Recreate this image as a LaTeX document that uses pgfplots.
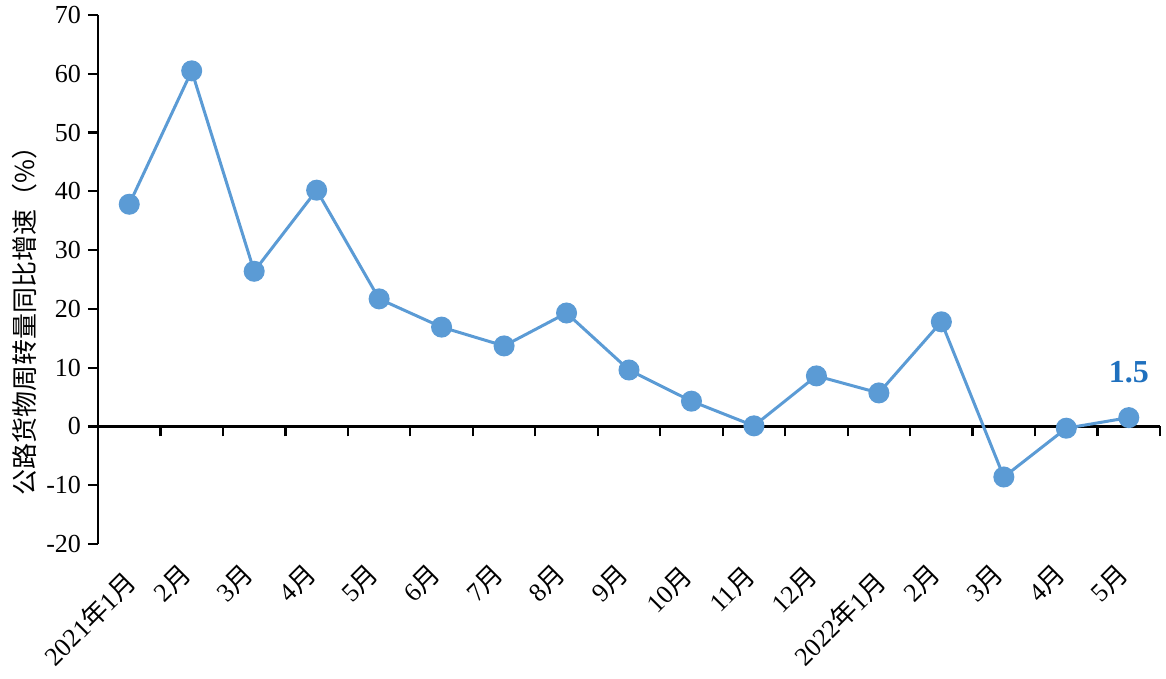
\documentclass[border=0pt]{standalone}
\usepackage{pgfplots}
\pgfplotsset{compat=1.18}
\usepackage{fontspec}
\setmainfont{Liberation Serif}
\newfontfamily\cjk{Noto Sans CJK SC}
\newcommand\yue{{\cjk 月}}
\newcommand\nian{{\cjk 年}}
\newcommand\lab[2]{\raisebox{#1}[\height][\depth]{#2}\hspace{#1}}
\definecolor{lineblue}{HTML}{5B9BD5}
\definecolor{labelblue}{HTML}{1F70BE}
\begin{document}
\begin{tikzpicture}
\begin{axis}[
  scale only axis,
  width=531pt, height=264.5pt,
  xmin=-0.5, xmax=16.5,
  ymin=-20, ymax=70,
  axis y line=left,
  axis x line=middle,
  axis line style={-, line width=1.1pt, black},
  ytick={-20,-10,...,70},
  xtick={0,...,16},
  xticklabels={\lab{-3.9pt}{2021\nian1\yue},\lab{1.2pt}{2\yue},\lab{1.2pt}{3\yue},\lab{1.2pt}{4\yue},\lab{1.2pt}{5\yue},\lab{1.2pt}{6\yue},\lab{1.2pt}{7\yue},\lab{1.2pt}{8\yue},\lab{1.2pt}{9\yue},\lab{0pt}{10\yue},\lab{0pt}{11\yue},\lab{0pt}{12\yue},\lab{-3.9pt}{2022\nian1\yue},\lab{1.2pt}{2\yue},\lab{1.2pt}{3\yue},\lab{1.2pt}{4\yue},\lab{1.2pt}{5\yue}},
  major x tick style={draw=none},
  minor xtick={-0.5,0.5,...,16.5},
  minor x tick style={line width=1.1pt, black, yshift=-2.5pt},
  minor tick length=5pt,
  xtick align=center,
  y tick style={line width=1.1pt, black},
  major tick length=5pt,
  ytick align=outside,
  tick label style={font=\fontsize{13}{15}\selectfont},
  /pgf/number format/assume math mode=true,
  xticklabel style={yshift=-61pt, xshift=-6pt, rotate=45, anchor=north east},
  every axis y label/.style={at={(rel axis cs:0,0.5)}, xshift=-36.5pt, yshift=-17.5pt, rotate=90, anchor=center},
  ylabel={\cjk\fontsize{13}{15}\selectfont 公路货物周转量同比增速（\%）},
  clip=false,
]
\addplot[color=lineblue, line width=1.5pt, mark=*, mark size=4.5pt, mark options={fill=lineblue, draw=lineblue}]
coordinates {
(0,37.8) (1,60.5) (2,26.4) (3,40.2) (4,21.7) (5,16.9) (6,13.7) (7,19.3)
(8,9.6) (9,4.3) (10,0.1) (11,8.6) (12,5.7) (13,17.8) (14,-8.6) (15,-0.3) (16,1.5)
};
\addplot[draw=none, mark=none, nodes near coords={\textbf{1.5}},
  every node near coord/.style={font=\fontsize{16}{18}\selectfont, text=labelblue, anchor=center, yshift=22.5pt}]
coordinates {(16,1.5)};
\coordinate (sw) at (rel axis cs:0,0);
\coordinate (ne) at (rel axis cs:1,1);
\end{axis}
\pgfresetboundingbox
\path ([shift={(-49pt,-67.5pt)}]sw) rectangle ([shift={(3pt,7.5pt)}]ne);
\end{tikzpicture}
\end{document}
